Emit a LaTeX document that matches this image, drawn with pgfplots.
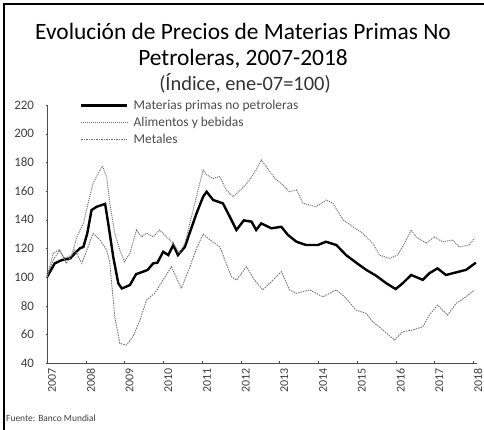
\documentclass[border=0pt]{standalone}
\usepackage{pgfplots}
\pgfplotsset{compat=1.18}
\usepackage{fontspec}
\setmainfont{Carlito}

\pgfplotstableread{
x y
2007.00 100
2007.20 109.5
2007.38 111.8
2007.60 113
2007.72 116.5
2007.85 120
2007.94 121
2008.04 130.5
2008.15 146.7
2008.28 149
2008.50 151
2008.58 137.5
2008.71 114
2008.84 95.6
2008.93 92
2009.05 93.3
2009.14 94.4
2009.30 102
2009.48 103.7
2009.60 105
2009.74 109.5
2009.85 110
2010.00 117.6
2010.13 115.3
2010.26 122.3
2010.38 115.3
2010.56 121
2010.68 130.5
2010.86 144.4
2011.03 156
2011.12 159.5
2011.29 153.7
2011.54 151.4
2011.72 142
2011.89 132.8
2012.08 139.5
2012.28 138.6
2012.40 132.8
2012.53 137.4
2012.79 134
2013.05 135
2013.22 129.3
2013.44 124.6
2013.69 122.3
2013.99 122.3
2014.20 124.6
2014.47 122.3
2014.72 115.3
2014.98 110
2015.24 105
2015.50 100.8
2015.76 95.6
2016.00 91.6
2016.18 95.6
2016.40 101.4
2016.70 98
2016.87 102.6
2017.08 106
2017.30 101.4
2017.47 102.6
2017.82 105
2018.07 110
}\materias

\pgfplotstableread{
x y
2007.00 100
2007.16 116.5
2007.30 118.8
2007.46 113
2007.64 115.3
2007.77 128
2007.94 137.4
2008.06 151.4
2008.19 165.4
2008.37 174.6
2008.43 177.4
2008.54 170
2008.62 151.4
2008.75 130.5
2008.88 118.8
2009.00 110.7
2009.14 116.5
2009.31 132.8
2009.44 128
2009.57 130.5
2009.74 128
2009.91 132.8
2010.08 128
2010.26 123.5
2010.43 116.5
2010.56 123.5
2010.73 142
2010.90 160.7
2011.03 174.6
2011.12 171.2
2011.29 168.8
2011.46 170
2011.63 160.7
2011.80 156
2011.97 160
2012.15 165
2012.40 174.6
2012.53 181.6
2012.66 177
2012.88 168.8
2013.09 164.2
2013.26 159.5
2013.44 160.7
2013.61 151.4
2013.95 149
2014.21 153.7
2014.38 151.4
2014.64 139.8
2014.90 135
2015.15 130.5
2015.41 123.5
2015.58 115.3
2015.84 113
2016.05 115.3
2016.23 123.5
2016.40 132.8
2016.53 128
2016.79 123.5
2017.00 128
2017.21 124.6
2017.47 125.8
2017.64 121
2017.90 122.3
2018.03 127
}\alimentos

\pgfplotstableread{
x y
2007.00 100
2007.16 111.8
2007.33 118.8
2007.50 109.5
2007.72 118.8
2007.90 109.5
2008.06 121
2008.19 130.5
2008.37 125.8
2008.54 118.8
2008.62 110
2008.75 72.3
2008.88 53.7
2009.05 52.5
2009.22 58.3
2009.40 70
2009.57 84
2009.78 88.6
2010.00 98
2010.21 107.2
2010.47 92
2010.69 107.2
2010.86 120
2011.03 130
2011.20 126
2011.46 121
2011.76 100.2
2011.89 97.8
2012.15 107.2
2012.34 98.5
2012.57 91
2012.83 97.8
2013.05 103.7
2013.26 91
2013.44 88.6
2013.78 91
2014.12 86.2
2014.47 91
2014.68 86.2
2014.98 76.9
2015.24 74.6
2015.41 68.8
2015.67 63
2015.97 56
2016.18 61.8
2016.44 63
2016.70 65.3
2016.87 73.4
2017.08 80.4
2017.34 73.4
2017.56 81.6
2017.82 86.2
2018.03 91
}\metales

\begin{document}
\begin{tikzpicture}
\useasboundingbox (0bp,0bp) rectangle (484bp,430bp);
% marco
\draw[line width=2bp] (4bp,0bp) -- (4bp,426bp) -- (484bp,426bp);
% titulo
\node[font=\fontsize{23.5}{26}\selectfont] at (243bp,399bp) {Evolución de Precios de Materias Primas No};
\node[font=\fontsize{23.5}{26}\selectfont] at (243bp,371bp) {Petroleras, 2007-2018};
\node[font=\fontsize{20.5}{23}\selectfont, text=black!80] at (245bp,347bp) {(Índice, ene-07=100)};
\node[anchor=west, font=\fontsize{9.5}{11}\selectfont, text=black!75, inner sep=0pt] at (6bp,12bp) {Fuente: Banco Mundial};

\begin{axis}[
at={(47bp,67bp)}, anchor=south west,
scale only axis, width=430bp, height=258bp,
xmin=2007, xmax=2018.1,
ymin=40, ymax=220,
axis lines=left,
axis line style={black!70, line width=0.8bp, -},
xtick={2007,...,2018},
ytick={40,60,...,220},
major tick length=3bp,
tick style={black!70},
xticklabel style={rotate=90, anchor=east, font=\fontsize{12}{14}\selectfont, text=black!75, yshift=-5bp},
yticklabel style={font=\fontsize{13}{15}\selectfont, text=black!75, xshift=-8bp},
/pgf/number format/assume math mode=true,
/pgf/number format/1000 sep={},
legend style={at={(0.07,1.0)}, anchor=north west, yshift=9bp, draw=none, fill=none,
  font=\fontsize{13.5}{15}\selectfont, text=black!70, row sep=2bp,
  nodes={inner xsep=5bp}},
legend cell align=left,
legend image code/.code={\draw[#1] (0bp,0bp) -- (46bp,0bp);},
]
\addplot[black, line width=2.4bp] table {\materias};
\addplot[black!55, line width=1bp, densely dotted] table {\alimentos};
\addplot[black!55, line width=0.9bp, dash pattern=on 1.5bp off 1bp] table {\metales};
\legend{Materias primas no petroleras, Alimentos y bebidas, Metales}
\end{axis}
\end{tikzpicture}
\end{document}
